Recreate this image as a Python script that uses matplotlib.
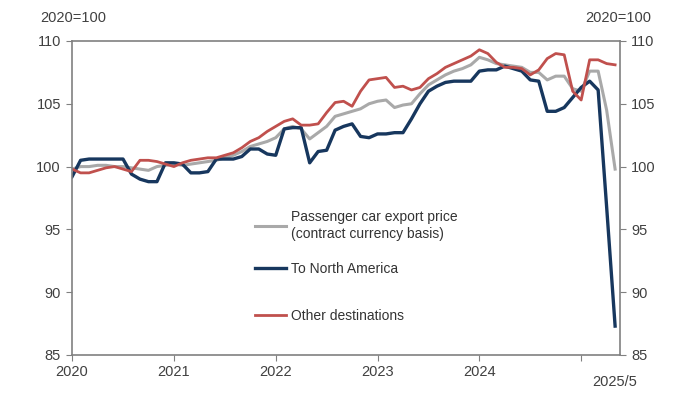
import numpy as np
import pandas as pd
import matplotlib
matplotlib.use('Agg')
import matplotlib.pyplot as plt

plt.rcParams['font.family'] = ['Liberation Sans', 'DejaVu Sans']

# monthly data, 2020/1 - 2025/5 (2020=100)
months = pd.period_range('2020-01', '2025-05', freq='M')

passenger_car = [99.8, 100.0, 100.0, 100.1, 100.1, 100.0, 100.0, 99.9, 99.8, 99.7, 100.0, 100.1,
                 100.2, 100.1, 100.2, 100.3, 100.4, 100.5, 100.7, 100.9, 101.2, 101.6, 101.8, 102.0,
                 102.3, 103.0, 103.2, 103.0, 102.2, 102.7, 103.2, 104.0, 104.2, 104.4, 104.6, 105.0,
                 105.2, 105.3, 104.7, 104.9, 105.0, 105.8, 106.5, 106.9, 107.3, 107.6, 107.8, 108.1,
                 108.7, 108.5, 108.2, 108.1, 108.0, 107.9, 107.5, 107.5, 106.9, 107.2, 107.2, 106.2,
                 106.0, 107.6, 107.6, 104.5, 99.8]

north_america = [99.2, 100.5, 100.6, 100.6, 100.6, 100.6, 100.6, 99.4, 99.0, 98.8, 98.8, 100.3,
                 100.3, 100.2, 99.5, 99.5, 99.6, 100.6, 100.6, 100.6, 100.8, 101.4, 101.4, 101.0,
                 100.9, 103.0, 103.1, 103.1, 100.3, 101.2, 101.3, 102.9, 103.2, 103.4, 102.4, 102.3,
                 102.6, 102.6, 102.7, 102.7, 103.8, 105.0, 106.0, 106.4, 106.7, 106.8, 106.8, 106.8,
                 107.6, 107.7, 107.7, 108.0, 107.8, 107.6, 106.9, 106.8, 104.4, 104.4, 104.7, 105.5,
                 106.3, 106.8, 106.1, 96.8, 87.3]

other_dest = [99.8, 99.5, 99.5, 99.7, 99.9, 100.0, 99.8, 99.6, 100.5, 100.5, 100.4, 100.2,
              100.0, 100.3, 100.5, 100.6, 100.7, 100.7, 100.9, 101.1, 101.5, 102.0, 102.3, 102.8,
              103.2, 103.6, 103.8, 103.3, 103.3, 103.4, 104.3, 105.1, 105.2, 104.8, 106.0, 106.9,
              107.0, 107.1, 106.3, 106.4, 106.1, 106.3, 107.0, 107.4, 107.9, 108.2, 108.5, 108.8,
              109.3, 109.0, 108.3, 107.9, 107.9, 107.8, 107.3, 107.7, 108.6, 109.0, 108.9, 106.0,
              105.3, 108.5, 108.5, 108.2, 108.1]

year_labels = ['2020', '2021', '2022', '2023', '2024', '']
y_ticks = [85, 90, 95, 100, 105, 110]

x = np.arange(len(months))

fig = plt.figure(figsize=(7, 3.94), dpi=100)
ax = fig.add_axes([0.103, 0.099, 0.783, 0.797])

l1, = ax.plot(x, passenger_car, color='#a9a9a9', lw=2.2,
              label='Passenger car export price\n(contract currency basis)')
l2, = ax.plot(x, north_america, color='#17375e', lw=2.4, label='To North America')
l3, = ax.plot(x, other_dest, color='#c0504d', lw=2.0, label='Other destinations')

ax.set_xlim(0, 64.6)
ax.set_ylim(85, 110)
ax.set_xticks(np.arange(0, 61, 12))
ax.set_xticklabels(year_labels)
ax.set_yticks(y_ticks)
ax.tick_params(axis='y', left=True, right=True, labelleft=True, labelright=True,
               direction='out', length=4, color='#808080', labelsize=10.5,
               labelcolor='#404040', pad=4)
ax.tick_params(axis='x', direction='out', length=4, color='#808080', labelsize=10.5,
               labelcolor='#404040', pad=3)
for s in ax.spines.values():
    s.set_color('#808080')
    s.set_linewidth(1.2)

# end label for last month
ax.text(64, -0.085, f'{months[-1].year}/{months[-1].month}', transform=ax.get_xaxis_transform(),
        ha='center', va='center', fontsize=10.5, color='#404040')

fig.text(0.057, 0.955, '2020=100', fontsize=10.5, color='#404040', va='center')
fig.text(0.836, 0.955, '2020=100', fontsize=10.5, color='#404040', va='center')

# legend, split in two so the gap to the last entry is wider
leg_kw = dict(frameon=False, fontsize=10, handlelength=2.3, handletextpad=0.35,
              labelcolor='#333333')
leg1 = ax.legend(handles=[l1, l2], loc='upper left', bbox_to_anchor=(0.31, 0.50),
                 labelspacing=1.5, **leg_kw)
ax.add_artist(leg1)
ax.legend(handles=[l3], loc='center left', bbox_to_anchor=(0.31, 0.124), **leg_kw)

fig.savefig('out.png', dpi=100)
